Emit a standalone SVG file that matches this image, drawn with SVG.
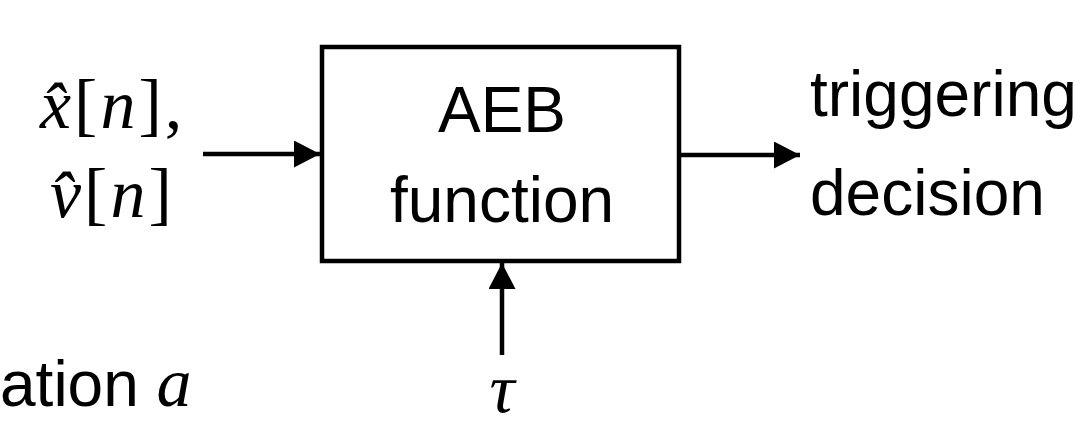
<svg xmlns="http://www.w3.org/2000/svg" width="1088" height="425" viewBox="0 0 1088 425">
<style>
.sans{font-family:"Liberation Sans",Arial,sans-serif;font-size:64px;fill:#000}
.math{font-family:"Liberation Serif","Times New Roman",serif;font-size:70px;fill:#000}
.it{font-style:italic}
.ln{stroke:#000;stroke-width:4.5;fill:none}
</style>
<defs>
<marker id="ah" viewBox="0 0 26 27" refX="26" refY="13.5" markerWidth="26" markerHeight="27" markerUnits="userSpaceOnUse" orient="auto">
<path d="M0,0 L26,13.5 L0,27 Z" fill="#000"/>
</marker>
</defs>
<rect width="1088" height="425" fill="#fff"/>
<g id="aeb">
<rect x="322" y="47" width="357" height="214" fill="#fff" stroke="#000" stroke-width="4.5"/>
<text class="sans" x="502" y="132" text-anchor="middle">AEB</text>
<text class="sans" x="502" y="222" text-anchor="middle">function</text>
</g>
<g id="inputs">
<text class="math" x="40" y="128" letter-spacing="3"><tspan class="it">x̂</tspan>[<tspan class="it">n</tspan>],</text>
<text class="math" x="50" y="217" letter-spacing="3"><tspan class="it">v̂</tspan>[<tspan class="it">n</tspan>]</text>
</g>
<g id="output">
<text class="sans" x="810" y="116">triggering</text>
<text class="sans" x="810" y="215">decision</text>
</g>
<g id="tau">
<text class="math it" x="502" y="412" text-anchor="middle">τ</text>
</g>
<g id="accel">
<text class="sans" x="0" y="406">ation <tspan class="math it">a</tspan></text>
</g>
<g id="connectors">
<line class="ln" x1="203" y1="154" x2="320" y2="154" marker-end="url(#ah)"/>
<line class="ln" x1="681" y1="155" x2="800" y2="155" marker-end="url(#ah)"/>
<line class="ln" x1="502" y1="355" x2="502" y2="263" marker-end="url(#ah)"/>
</g>
</svg>
